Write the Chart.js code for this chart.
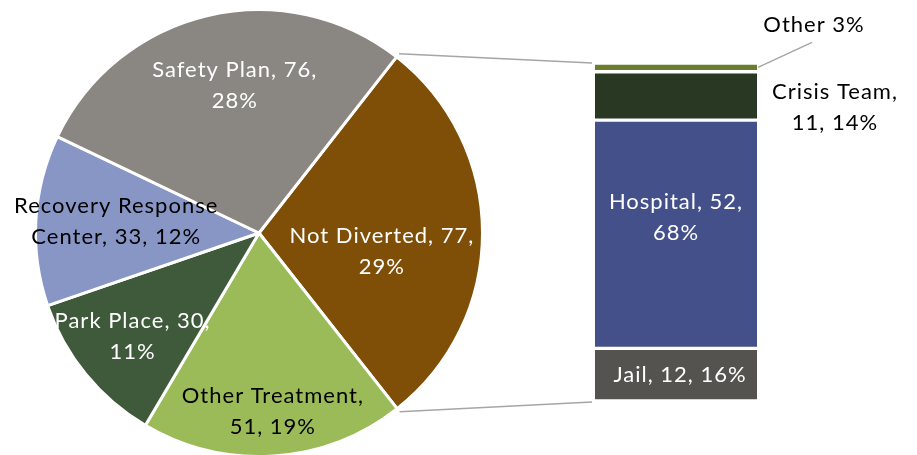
<!DOCTYPE html>
<html>
<head>
<meta charset="utf-8">
<script src="https://cdn.jsdelivr.net/npm/chart.js@4.4.0/dist/chart.umd.min.js"></script>
<style>
  html, body { margin: 0; padding: 0; background: #fff; overflow: hidden; }
  #wrap { position: relative; width: 917px; height: 455px; overflow: hidden; }
  #pieBox { position: absolute; left: 0; top: 0; width: 520px; height: 460px; }
  #barBox { position: absolute; left: 380px; top: 0; width: 537px; height: 455px; }
</style>
</head>
<body>
<div id="wrap">
  <div id="pieBox"><canvas id="pieChart"></canvas></div>
  <div id="barBox"><canvas id="barChart"></canvas></div>
</div>
<script>
// Diversion outcomes (pie) and breakdown of "Not Diverted" (stacked bar)
const pieCategories = ['Not Diverted', 'Other Treatment', 'Park Place', 'Recovery Response Center', 'Safety Plan'];
const pieValues = [77, 51, 30, 33, 76];
const pieColors = ['#7F4F08', '#9BBB59', '#3F5A3B', '#8896C6', '#8A8782'];

const barCategories = ['Jail', 'Hospital', 'Crisis Team', 'Other'];
const barValues = [12, 52, 11, 2];
const barColors = ['#55534F', '#43508A', '#283823', '#6B7D2E'];

const FONT = '22px Lato, "Open Sans", sans-serif';
const LINE_H = 31;

function sum(arr) { return arr.reduce((a, b) => a + b, 0); }

function drawLines(ctx, lines, cx, cy, color) {
    ctx.save();
    ctx.font = FONT;
    ctx.letterSpacing = '1px';
    ctx.fillStyle = color;
    ctx.textAlign = 'center';
    ctx.textBaseline = 'middle';
    const top = cy - (lines.length - 1) * LINE_H / 2;
    lines.forEach((t, i) => ctx.fillText(t, cx, top + i * LINE_H));
    ctx.restore();
}

function splitWords(text, n) {
    const words = text.split(' ');
    if (!n || n >= words.length) return [text];
    return [words.slice(0, n).join(' '), words.slice(n).join(' ')];
}

// data labels inside / around the pie slices
const pieLabelPlugin = {
    id: 'pieLabels',
    afterDatasetsDraw(chart, args, opts) {
        const ctx = chart.ctx;
        const total = sum(pieValues);
        chart.getDatasetMeta(0).data.forEach((arc, i) => {
            const p = opts.place[i];
            const {x, y, startAngle, endAngle, outerRadius} =
                arc.getProps(['x', 'y', 'startAngle', 'endAngle', 'outerRadius'], true);
            const mid = (startAngle + endAngle) / 2;
            const cx = x + Math.cos(mid) * outerRadius * p.r + (p.dx || 0);
            const cy = y + Math.sin(mid) * outerRadius * p.r + (p.dy || 0);
            const pct = Math.round(pieValues[i] / total * 100);
            const text = `${pieCategories[i]}, ${pieValues[i]}, ${pct}%`;
            drawLines(ctx, splitWords(text, p.words), cx, cy, p.color);
        });
    }
};

const pieChart = new Chart(document.getElementById('pieChart'), {
    type: 'pie',
    data: {
        labels: pieCategories,
        datasets: [{
            data: pieValues,
            backgroundColor: pieColors,
            borderColor: '#ffffff',
            borderWidth: 3
        }]
    },
    options: {
        responsive: true,
        maintainAspectRatio: false,
        animation: false,
        events: [],
        rotation: 38,
        layout: { padding: { left: 34, top: 8, right: 36, bottom: 2 } },
        plugins: {
            legend: { display: false },
            tooltip: { enabled: false },
            pieLabels: {
                place: [
                    { r: 0.55, dx: 0, dy: 19, words: 3, color: '#ffffff' },
                    { r: 0.80, dx: 2, dy: 0, words: 2, color: '#000000' },
                    { r: 0.73, dx: 0, dy: 0, words: 3, color: '#ffffff' },
                    { r: 0.64, dx: 0, dy: -3, words: 2, color: '#000000' },
                    { r: 0.67, dx: 10, dy: -2, words: 3, color: '#ffffff' }
                ]
            }
        }
    },
    plugins: [pieLabelPlugin]
});

// connector lines from the "Not Diverted" slice plus the bar labels
const barExtrasPlugin = {
    id: 'barExtras',
    afterDraw(chart, args, opts) {
        const ctx = chart.ctx;
        const pr = pieChart.canvas.getBoundingClientRect();
        const br = chart.canvas.getBoundingClientRect();
        const ox = pr.left - br.left, oy = pr.top - br.top;
        const arc = pieChart.getDatasetMeta(0).data[0];
        const {x, y, startAngle, endAngle, outerRadius} =
            arc.getProps(['x', 'y', 'startAngle', 'endAngle', 'outerRadius'], true);
        const r = outerRadius + 4;

        const metas = chart.getSortedVisibleDatasetMetas();
        const topBar = metas[metas.length - 1].data[0];
        const baseBar = metas[0].data[0];
        const left = topBar.x - topBar.width / 2;
        const right = topBar.x + topBar.width / 2;

        ctx.save();
        ctx.strokeStyle = '#A6A6A6';
        ctx.lineWidth = 1.5;
        ctx.beginPath();
        ctx.moveTo(ox + x + Math.cos(startAngle) * r, oy + y + Math.sin(startAngle) * r);
        ctx.lineTo(left - 3, topBar.y);
        ctx.moveTo(ox + x + Math.cos(endAngle) * r, oy + y + Math.sin(endAngle) * r);
        ctx.lineTo(left - 3, baseBar.base + 1);
        ctx.stroke();
        ctx.restore();

        const total = sum(barValues);
        metas.forEach((meta, i) => {
            const bar = meta.data[0];
            const p = opts.place[i];
            const pct = Math.round(barValues[i] / total * 100);
            const text = p.short ? `${barCategories[i]} ${pct}%`
                                 : `${barCategories[i]}, ${barValues[i]}, ${pct}%`;
            const midY = (bar.y + bar.base) / 2;
            const cx = (p.outside ? right : bar.x) + p.dx;
            const cy = midY + p.dy;
            if (p.leader) {
                ctx.save();
                ctx.strokeStyle = '#A6A6A6';
                ctx.lineWidth = 1.5;
                ctx.beginPath();
                ctx.moveTo(cx - 2, cy + 17);
                ctx.lineTo(right + 1, midY);
                ctx.stroke();
                ctx.restore();
            }
            drawLines(ctx, splitWords(text, p.words), cx, cy, p.color);
        });
    }
};

new Chart(document.getElementById('barChart'), {
    type: 'bar',
    data: {
        labels: [''],
        datasets: barCategories.map((c, i) => ({
            label: c,
            data: [barValues[i]],
            backgroundColor: barColors[i],
            borderColor: '#ffffff',
            borderWidth: { top: 2, bottom: 2, left: 0, right: 0 },
            borderSkipped: false,
            barPercentage: 1,
            categoryPercentage: 1
        }))
    },
    options: {
        responsive: true,
        maintainAspectRatio: false,
        animation: false,
        events: [],
        layout: { padding: { left: 215, right: 160, top: 63, bottom: 54 } },
        scales: {
            x: { stacked: true, display: false },
            y: { stacked: true, display: false, min: 0, max: sum(barValues) }
        },
        plugins: {
            legend: { display: false },
            tooltip: { enabled: false },
            barExtras: {
                place: [
                    { dx: 4, dy: 0, words: 0, color: '#ffffff' },
                    { dx: 0, dy: -17, words: 2, color: '#ffffff' },
                    { outside: true, dx: 78, dy: 11, words: 2, color: '#000000' },
                    { outside: true, short: true, leader: true, dx: 57, dy: -42, words: 0, color: '#000000' }
                ]
            }
        }
    },
    plugins: [barExtrasPlugin]
});
</script>
</body>
</html>
